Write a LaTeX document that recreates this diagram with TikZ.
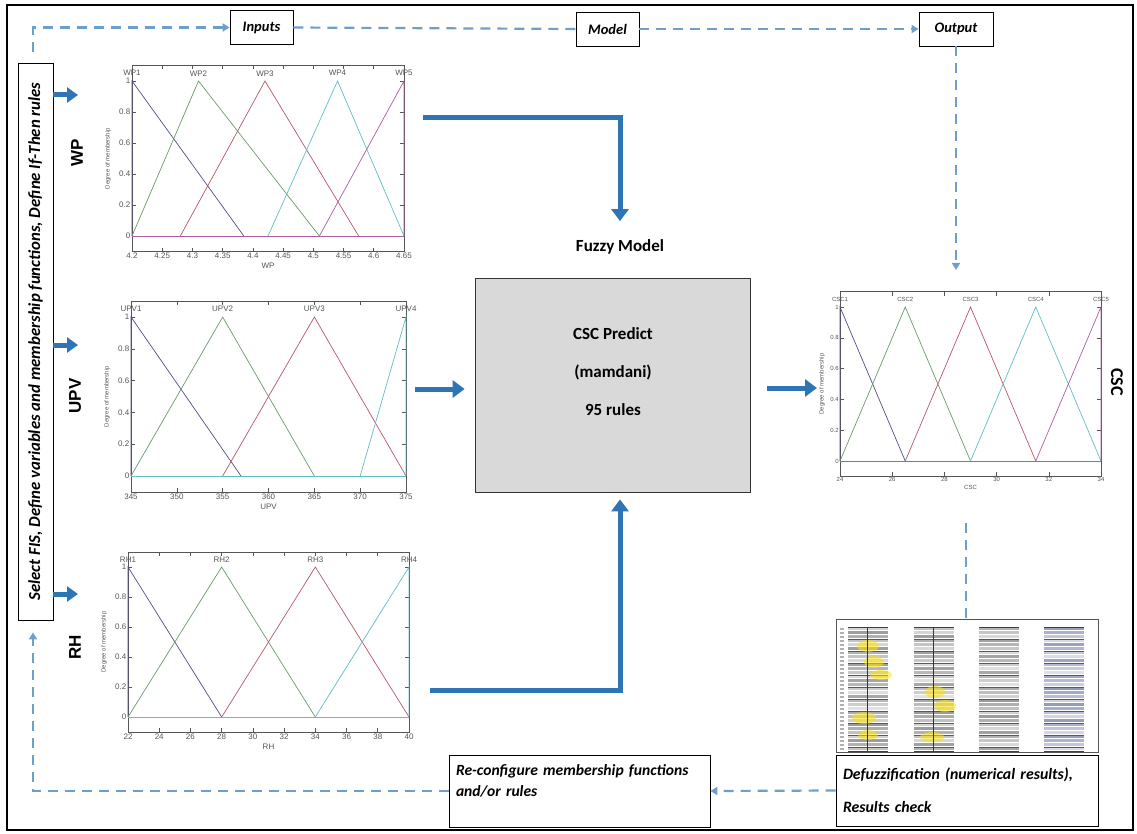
\documentclass[tikz,border=0pt]{standalone}
\usepackage{fontspec}
\setmainfont{Carlito}
\newfontfamily\arialfont{Liberation Sans}
\usetikzlibrary{arrows.meta,positioning}
\definecolor{flowblue}{RGB}{46,117,182}
\definecolor{dashblue}{RGB}{110,158,204}
\definecolor{boxgray}{RGB}{217,217,217}
\definecolor{axisgray}{RGB}{85,85,85}
\definecolor{mfone}{RGB}{85,75,135}
\definecolor{mftwo}{RGB}{105,155,105}
\definecolor{mfthree}{RGB}{185,85,105}
\definecolor{mffour}{RGB}{95,190,195}
\definecolor{mffive}{RGB}{170,95,160}
\definecolor{rvgray}{RGB}{110,110,110}
\definecolor{rvblue}{RGB}{95,105,150}

\begin{document}
\begin{tikzpicture}[x=1pt, y=-1pt,
    tagbox/.style={draw, fill=white, line width=0.8pt, inner sep=0pt, minimum height=34pt,
        font=\bfseries\itshape\fontsize{14.5}{17}\selectfont},
    notebox/.style={draw, fill=white, line width=0.8pt, inner sep=6pt, align=left,
        font=\bfseries\itshape\fontsize{15.6}{21}\selectfont},
    varlabel/.style={font=\arialfont\bfseries\fontsize{17}{19}\selectfont},
    flowarrow/.style={draw=flowblue, line width=5pt, -{Triangle[length=12pt,width=17pt]}},
    feedback/.style={draw=dashblue, line width=2.2pt, dash pattern=on 10pt off 7pt},
    feedbackto/.style={feedback, -{Triangle[length=7pt,width=8pt]}},
    mfaxis/.style={draw=axisgray, line width=0.6pt},
    mfline/.style={line width=0.7pt},
    mftick/.style={text=axisgray, inner sep=1.5pt, font=\arialfont\fontsize{8}{9}\selectfont},
    mfsmall/.style={text=axisgray, inner sep=1pt, font=\arialfont\fontsize{6}{7}\selectfont}]
  \useasboundingbox (0,0) rectangle (1137,834);

  % 1. Outer frame and the step boxes
  \draw[line width=1.6pt] (7,5) rectangle (1133,830);
  \node[tagbox, minimum width=63pt] (inputs) at (261.5,27.5) {Inputs};
  \node[tagbox, minimum width=63pt] (model) at (607.5,29) {Model};
  \node[tagbox, minimum width=74pt] (output) at (956,29) {Output};
  \node[draw, fill=white, line width=0.8pt, rotate=90, minimum width=557pt, minimum height=35pt,
        inner sep=0pt, font=\bfseries\itshape\fontsize{16.8}{18}\selectfont] (select) at (35.5,341.5)
        {Select FIS, Define variables and membership functions, Define If-Then rules};
  \node[notebox, minimum width=261pt, minimum height=72pt, text width=247pt] (reconf) at (579.5,791)
        {Re-configure membership functions\\and/or rules\\\mbox{}};
  \node[notebox, minimum width=262pt, minimum height=71pt, text width=248pt, font=\bfseries\itshape\fontsize{15.8}{33}\selectfont]
        (defuzz) at (967,790.5) {Defuzzification (numerical results),\\Results check};

  % 2. Fuzzy model box
  \node[font=\bfseries\fontsize{17}{20}\selectfont] (fmlabel) at (620,247) {Fuzzy Model};
  \node[draw=black!80, fill=boxgray, line width=0.8pt, minimum width=275pt, minimum height=214pt] (fuzzy) at (612.5,385) {};
  \node[align=center, font=\bfseries\fontsize{17}{38}\selectfont] (predict) at (613,372) {CSC Predict\\(mamdani)\\95 rules};

  % 3. Variable names
  \node[varlabel, rotate=90] (wplab) at (77,153) {WP};
  \node[varlabel, rotate=90] (upvlab) at (75,396) {UPV};
  \node[varlabel, rotate=90] (rhlab) at (75,647) {RH};
  \node[font=\bfseries\fontsize{18}{20}\selectfont, rotate=-90] (csclab) at (1117,382) {CSC};

  % 4. WP membership functions
  \begin{scope}[shift={(132,236)}, x=604.44pt, y=155pt, shift={(-4.2,0)}]
    \draw[mfaxis] (4.2,-0.1) rectangle (4.65,1.1);
    \foreach \v in {4.2,4.25,4.3,4.35,4.4,4.45,4.5,4.55,4.6,4.65} {
      \draw[mfaxis] (\v,-0.1) -- ++(0,4pt) (\v,1.1) -- ++(0,-4pt);
      \node[mftick, below] at (\v,-0.1) {\v};
    }
    \foreach \v in {0,0.2,0.4,0.6,0.8,1} {
      \draw[mfaxis] (4.2,\v) -- ++(4pt,0) (4.65,\v) -- ++(-4pt,0);
      \node[mftick, left] at (4.2,\v) {\v};
    }
    \foreach \a/\b/\c/\col/\lab in {4.2/4.2/4.385/mfone/WP1, 4.2/4.31/4.51/mftwo/WP2,
        4.28/4.42/4.575/mfthree/WP3, 4.425/4.54/4.65/mffour/WP4, 4.51/4.65/4.65/mffive/WP5} {
      \draw[mfline, \col] (\a,0) -- (\b,1) -- (\c,0);
      \node[mftick] at (\b,1.05) {\lab};
    }
    \draw[mfline, mffive] (4.2,0) -- (4.65,0);
    \node[mftick, below=10pt] at (4.425,-0.1) {WP};
    \node[mfsmall, rotate=90] at ([xshift=-24pt]4.2,0.5) {Degree of membership};
  \end{scope}

  % 5. UPV membership functions
  \begin{scope}[shift={(131,476)}, x=9.1667pt, y=159pt, shift={(-345,0)}]
    \draw[mfaxis] (345,-0.1) rectangle (375,1.1);
    \foreach \v in {345,350,...,375} {
      \draw[mfaxis] (\v,-0.1) -- ++(0,4pt) (\v,1.1) -- ++(0,-4pt);
      \node[mftick, below] at (\v,-0.1) {\v};
    }
    \foreach \v in {0,0.2,0.4,0.6,0.8,1} {
      \draw[mfaxis] (345,\v) -- ++(4pt,0) (375,\v) -- ++(-4pt,0);
      \node[mftick, left] at (345,\v) {\v};
    }
    \foreach \a/\b/\c/\col/\lab in {345/345/357/mfone/UPV1, 345/355/365/mftwo/UPV2,
        355/365/375/mfthree/UPV3, 370/375/375/mffour/UPV4} {
      \draw[mfline, \col] (\a,0) -- (\b,1) -- (\c,0);
      \node[mftick] at (\b,1.05) {\lab};
    }
    \draw[mfline, mffour] (345,0) -- (375,0);
    \node[mftick, below=10pt] at (360,-0.1) {UPV};
    \node[mfsmall, rotate=90] at ([xshift=-24pt]345,0.5) {Degree of membership};
  \end{scope}

  % 6. RH membership functions
  \begin{scope}[shift={(128,717)}, x=15.611pt, y=150pt, shift={(-22,0)}]
    \draw[mfaxis] (22,-0.1) rectangle (40,1.1);
    \foreach \v in {22,24,...,40} {
      \draw[mfaxis] (\v,-0.1) -- ++(0,4pt) (\v,1.1) -- ++(0,-4pt);
      \node[mftick, below] at (\v,-0.1) {\v};
    }
    \foreach \v in {0,0.2,0.4,0.6,0.8,1} {
      \draw[mfaxis] (22,\v) -- ++(4pt,0) (40,\v) -- ++(-4pt,0);
      \node[mftick, left] at (22,\v) {\v};
    }
    \foreach \a/\b/\c/\col/\lab in {22/22/28/mfone/RH1, 22/28/34/mftwo/RH2,
        28/34/40/mfthree/RH3, 34/40/40/mffour/RH4} {
      \draw[mfline, \col] (\a,0) -- (\b,1) -- (\c,0);
      \node[mftick] at (\b,1.05) {\lab};
    }
    \draw[mfline, mffour] (22,0) -- (40,0);
    \node[mftick, below=10pt] at (31,-0.1) {RH};
    \node[mfsmall, rotate=90] at ([xshift=-24pt]22,0.5) {Degree of membership};
  \end{scope}

  % 7. CSC membership functions
  \begin{scope}[shift={(840,461)}, x=26.1pt, y=154pt, shift={(-24,0)}]
    \draw[mfaxis] (24,-0.1) rectangle (34,1.1);
    \foreach \v in {24,26,...,34} {
      \draw[mfaxis] (\v,-0.1) -- ++(0,4pt) (\v,1.1) -- ++(0,-4pt);
      \node[mfsmall, below] at (\v,-0.1) {\v};
    }
    \foreach \v in {0,0.2,0.4,0.6,0.8,1} {
      \draw[mfaxis] (24,\v) -- ++(4pt,0) (34,\v) -- ++(-4pt,0);
      \node[mfsmall, left] at (24,\v) {\v};
    }
    \foreach \a/\b/\c/\col/\lab in {24/24/26.5/mfone/CSC1, 24/26.5/29/mftwo/CSC2,
        26.5/29/31.5/mfthree/CSC3, 29/31.5/34/mffour/CSC4, 31.5/34/34/mffive/CSC5} {
      \draw[mfline, \col] (\a,0) -- (\b,1) -- (\c,0);
      \node[mfsmall] at (\b,1.05) {\lab};
    }
    \draw[mfline, mffive] (24,0) -- (34,0);
    \node[mfsmall, below=8pt] at (29,-0.1) {CSC};
    \node[mfsmall, rotate=90] at ([xshift=-18pt]24,0.5) {Degree of membership};
  \end{scope}

  % 8. Rule viewer
  \node[draw=axisgray, fill=white, line width=0.6pt, minimum width=262pt, minimum height=133pt, inner sep=0pt] (rv) at (967,685.5) {};
  \foreach \r in {0,...,30}
    \fill[gray!60] (840,628+4*\r) rectangle ++(4,1.5);
  \foreach \cx/\cc [count=\k] in {848/rvgray, 914/rvgray, 979/rvgray, 1044/rvblue} {
    \foreach \r in {0,...,30} {
      \pgfmathtruncatemacro{\shade}{20+mod(\r*37+\k*11,50)}
      \fill[\cc!\shade!white] (\cx,627+4*\r) rectangle ++(40,3.4);
    }
    \foreach \r in {0,3,...,30}
      \draw[black!65, line width=0.35pt] (\cx,627+4*\r) -- ++(40,0);
    \draw[black!75, line width=0.4pt] (\cx,627) -- ++(40,0) (\cx,751) -- ++(40,0);
  }
  \foreach \bx/\by/\rx/\ry in {868/646/11/6, 874/662/10/6, 881/675/11/5, 864/718/12/6, 868/735/10/5,
      935/692/10/6, 945/706/11/6, 932/737/12/5}
    \fill[yellow!85!orange, opacity=0.55] (\bx,\by) ellipse (\rx pt and \ry pt);
  \draw[red!70!black, line width=0.6pt] (867,627) -- (867,751) (933,627) -- (933,751);

  % 9. Model flow
  \coordinate (wpout) at (423,118);
  \coordinate (upvout) at (415,389);
  \coordinate (rhout) at (430,690);
  \coordinate (cscin) at (817,388);
  \draw[flowarrow, shorten >=15pt] (wpout) -| (fmlabel.north);
  \draw[flowarrow, shorten >=10pt] (upvout) -- (fuzzy.west |- upvout);
  \draw[flowarrow, shorten >=7pt] (rhout) -| ([xshift=7.5pt]fuzzy.south);
  \draw[flowarrow, shorten <=17pt] (fuzzy.east |- cscin) -- (cscin);
  \foreach \yy in {95,345,594} {
    \coordinate (varin) at (78,\yy);
    \draw[flowarrow, -{Triangle[length=11pt,width=15pt]}] (select.south |- varin) -- (varin);
  }

  % 10. Dashed loop
  \coordinate (cscout) at (966,523);
  \coordinate (cscfeed) at (0,270);
  \draw[feedbackto, shorten <=11pt] ([xshift=-2.5pt]select.east) |- (inputs.west);
  \draw[feedback] (inputs.east) -- (model.west);
  \draw[feedbackto] (model.east) -- (output.west);
  \draw[feedbackto] (output.south) -- (output.south |- cscfeed);
  \draw[feedback] (cscout) -- (cscout |- rv.north);
  \draw[feedbackto] (defuzz.west) -- (reconf.east);
  \draw[feedbackto, shorten >=12pt] (reconf.west) -| ([xshift=-2.5pt]select.west);
\end{tikzpicture}
\end{document}
